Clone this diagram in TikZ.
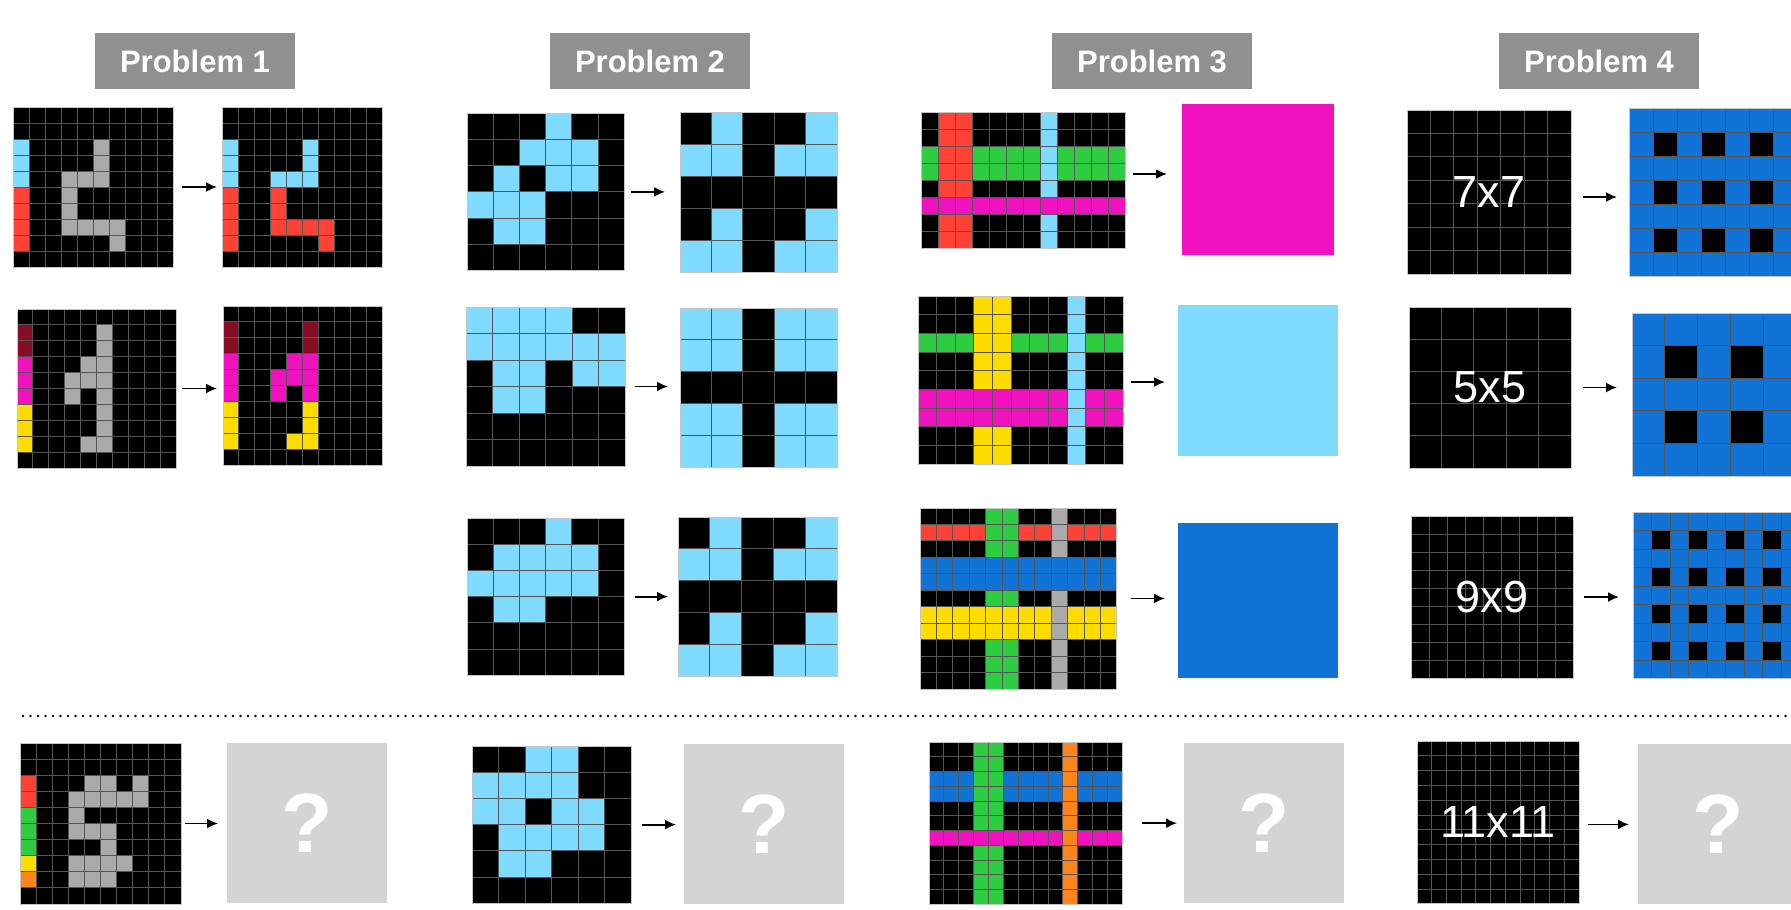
\documentclass[tikz,border=0pt]{standalone}
\usepackage{fontspec}
\setmainfont{Liberation Sans}
\usetikzlibrary{arrows.meta,calc}
\definecolor{arcblue}{HTML}{1173D6}
\definecolor{arcred}{HTML}{FF4136}
\definecolor{arcgreen}{HTML}{2ECC40}
\definecolor{arcyellow}{HTML}{FFDC00}
\definecolor{arcgray}{HTML}{AAAAAA}
\definecolor{arcmag}{HTML}{F012BE}
\definecolor{arcorange}{HTML}{FF851B}
\definecolor{arcsky}{HTML}{7FDBFF}
\definecolor{arcmaroon}{HTML}{870C25}
\definecolor{qgray}{HTML}{D4D4D4}
\definecolor{titlegray}{HTML}{909090}
\definecolor{glinec}{HTML}{555555}
\tikzset{
  gridbg/.style={fill=#1, draw=none, inner sep=0pt, outer sep=0pt, anchor=north west},
  gline/.style={draw=glinec, line width=0.45pt},
  gborder/.style={draw=gray!45, line width=0.45pt},
  arr/.style={-{Latex[length=5.5pt,width=5pt]}, line width=0.9pt, black},
  hdr/.style={fill=titlegray, text=white, font=\bfseries\fontsize{15.5}{18}\selectfont, minimum width=100pt, minimum height=28pt, inner sep=0pt},
  qbox/.style={fill=qgray, text=white, font=\bfseries\fontsize{42}{48}\selectfont, inner sep=0pt, anchor=north west, minimum width=80pt, minimum height=80pt},
  colbox/.style={draw=none, inner sep=0pt, anchor=north west},
  dimtext/.style={text=white, font=\fontsize{22.5}{26}\selectfont, inner sep=0pt},
  sepline/.style={line width=1.3pt, dash pattern=on 0pt off 3.75pt, line cap=round, black}
}
\newcommand\mkgrid[8][black]{%
  \node[gridbg=#1, minimum width={#5*#7*0.5pt}, minimum height={#6*#8*0.5pt}] (#2) at (#3,#4) {};%
  \def\gx{#3}\def\gy{#4}\def\gc{#5}\def\gr{#6}\def\gw{#7}\def\gh{#8}}
\newcommand\gb[5]{\fill[#1] ({\gx+#3*\gw},{\gy+#2*\gh}) rectangle ({\gx+(#5+1)*\gw},{\gy+(#4+1)*\gh});}
\newcommand\gcells[2]{\foreach \ri/\ci in {#2}{\gb{#1}{\ri}{\ci}{\ri}{\ci}}}
\newcommand\glines{%
  \pgfmathtruncatemacro\gcm{\gc-1}\pgfmathtruncatemacro\grm{\gr-1}%
  \foreach \ii in {1,...,\gcm}{\draw[gline] ({\gx+\ii*\gw},\gy) -- ({\gx+\ii*\gw},{\gy+\gr*\gh});}%
  \foreach \jj in {1,...,\grm}{\draw[gline] (\gx,{\gy+\jj*\gh}) -- ({\gx+\gc*\gw},{\gy+\jj*\gh});}%
  \draw[gborder] (\gx,\gy) rectangle ({\gx+\gc*\gw},{\gy+\gr*\gh});}
\begin{document}
\begin{tikzpicture}[x=0.5pt,y=-0.5pt]
\useasboundingbox (0,0) rectangle (1791,909);
\clip (0,0) rectangle (1791,909);
\fill[white] (0,0) rectangle (1791,909);
% titles
\node[hdr] (h1) at (195,61) {Problem 1};
\node[hdr] (h2) at (650,61) {Problem 2};
\node[hdr] (h3) at (1152,61) {Problem 3};
\node[hdr] (h4) at (1599,61) {Problem 4};
% ---------------- Problem 1
\mkgrid{p1a}{13}{107}{10}{10}{16}{16}
\gb{arcsky}{2}{0}{4}{0}\gb{arcred}{5}{0}{8}{0}
\gcells{arcgray}{2/5,3/5,4/3,4/4,4/5,5/3,6/3,7/3,7/4,7/5,7/6,8/6}
\glines
\mkgrid{p1b}{222}{107}{10}{10}{16}{16}
\gb{arcsky}{2}{0}{4}{0}\gb{arcred}{5}{0}{8}{0}
\gcells{arcsky}{2/5,3/5,4/3,4/4,4/5}
\gcells{arcred}{5/3,6/3,7/3,7/4,7/5,7/6,8/6}
\glines
\draw[arr, shorten <=4.5pt, shorten >=2.5pt] (p1a.east) -- (p1a.east -| p1b.west);
\mkgrid{p1c}{17}{309}{10}{10}{15.9}{15.9}
\gb{arcmaroon}{1}{0}{2}{0}\gb{arcmag}{3}{0}{5}{0}\gb{arcyellow}{6}{0}{8}{0}
\gcells{arcgray}{1/5,2/5,3/4,3/5,4/3,4/4,4/5,5/3,5/5,6/5,7/5,8/4,8/5}
\glines
\mkgrid{p1d}{223}{306}{10}{10}{15.9}{15.9}
\gb{arcmaroon}{1}{0}{2}{0}\gb{arcmag}{3}{0}{5}{0}\gb{arcyellow}{6}{0}{8}{0}
\gcells{arcmaroon}{1/5,2/5}
\gcells{arcmag}{3/4,3/5,4/3,4/4,4/5,5/3,5/5}
\gcells{arcyellow}{6/5,7/5,8/4,8/5}
\glines
\draw[arr, shorten <=3pt, shorten >=3pt] (p1c.east) -- (p1c.east -| p1d.west);
\mkgrid{p1e}{20}{743}{10}{10}{16.1}{16.1}
\gb{arcred}{2}{0}{3}{0}\gb{arcgreen}{4}{0}{6}{0}\gb{arcyellow}{7}{0}{7}{0}\gb{arcorange}{8}{0}{8}{0}
\gcells{arcgray}{2/4,2/5,2/7,3/3,3/4,3/5,3/6,3/7,4/3,5/3,5/4,5/5,6/5,7/3,7/4,7/5,7/6,8/3,8/4,8/5}
\glines
\node[qbox] (q1) at (227,743) {?};
\draw[arr, shorten <=2pt, shorten >=4.5pt] (p1e.east) -- (p1e.east -| q1.west);
% ---------------- Problem 2
\mkgrid{p2a}{467}{113}{6}{6}{26.2}{26.3}
\gcells{arcsky}{0/3,1/2,1/3,1/4,2/1,2/3,2/4,3/0,3/1,3/2,4/1,4/2}
\glines
\mkgrid{p2b}{680}{112}{5}{5}{31.4}{32}
\gcells{arcsky}{0/1,0/4,1/0,1/1,1/3,1/4,3/1,3/4,4/0,4/1,4/3,4/4}
\glines
\draw[arr, shorten <=3.5pt, shorten >=7.5pt] (p2a.east) -- (p2a.east -| p2b.west);
\mkgrid{p2c}{466}{307}{6}{6}{26.5}{26.5}
\gb{arcsky}{0}{0}{0}{3}\gb{arcsky}{1}{0}{1}{5}
\gcells{arcsky}{2/1,2/2,2/4,2/5,3/1,3/2}
\glines
\mkgrid{p2d}{680}{308}{5}{5}{31.4}{31.8}
\gcells{arcsky}{0/0,0/1,0/3,0/4,1/0,1/1,1/3,1/4,3/0,3/1,3/3,3/4,4/0,4/1,4/3,4/4}
\glines
\draw[arr, shorten <=5pt, shorten >=6pt] (p2c.east) -- (p2c.east -| p2d.west);
\mkgrid{p2e}{467}{518}{6}{6}{26.2}{26.2}
\gcells{arcsky}{0/3,1/1,1/2,1/3,1/4,2/0,2/1,2/2,2/3,2/4,3/1,3/2}
\glines
\mkgrid{p2f}{678}{517}{5}{5}{31.8}{31.8}
\gcells{arcsky}{0/1,0/4,1/0,1/1,1/3,1/4,3/1,3/4,4/0,4/1,4/3,4/4}
\glines
\draw[arr, shorten <=5.5pt, shorten >=5pt] (p2e.east) -- (p2e.east -| p2f.west);
\mkgrid{p2g}{472}{746}{6}{6}{26.5}{26.2}
\gcells{arcsky}{0/2,0/3,1/0,1/1,1/2,1/3,2/0,2/1,2/3,2/4,3/1,3/2,3/3,3/4,4/1,4/2}
\glines
\node[qbox] (q2) at (684,744) {?};
\draw[arr, shorten <=5.5pt, shorten >=4pt] (p2g.east) -- (p2g.east -| q2.west);
% ---------------- Problem 3
\mkgrid{p3a}{921}{112}{12}{8}{17}{17}
\gb{arcgreen}{2}{0}{3}{11}\gb{arcred}{0}{1}{7}{2}\gb{arcsky}{0}{7}{7}{7}\gb{arcmag}{5}{0}{5}{11}
\glines
\node[colbox, fill=arcmag, minimum width=76pt, minimum height=75.5pt] (p3b) at (1182,104) {};
\draw[arr, shorten <=4pt, shorten >=7.5pt] ([yshift=3pt]p3a.east) -- ([yshift=3pt]p3a.east -| p3b.west);
\mkgrid{p3c}{918}{296}{11}{9}{18.64}{18.67}
\gb{arcgreen}{2}{0}{2}{10}\gb{arcyellow}{0}{3}{8}{4}\gb{arcmag}{5}{0}{6}{10}\gb{arcsky}{0}{8}{8}{8}
\glines
\node[colbox, fill=arcsky, minimum width=80pt, minimum height=75.5pt] (p3d) at (1178,305) {};
\draw[arr, shorten <=4pt, shorten >=6.5pt] ([yshift=-1pt]p3c.east) -- ([yshift=-1pt]p3c.east -| p3d.west);
\mkgrid{p3e}{920}{508}{12}{11}{16.4}{16.45}
\gb{arcred}{1}{0}{1}{11}\gb{arcgreen}{0}{4}{10}{5}\gb{arcyellow}{6}{0}{7}{11}\gb{arcgray}{0}{8}{10}{8}\gb{arcblue}{3}{0}{4}{11}
\glines
\node[colbox, fill=arcblue, minimum width=80pt, minimum height=77.5pt] (p3f) at (1178,523) {};
\draw[arr, shorten <=7pt, shorten >=6.5pt] (p3e.east) -- (p3e.east -| p3f.west);
\mkgrid{p3g}{929}{742}{13}{11}{14.87}{14.76}
\gb{arcblue}{2}{0}{3}{12}\gb{arcgreen}{0}{3}{10}{4}\gb{arcmag}{6}{0}{6}{12}\gb{arcorange}{0}{9}{10}{9}
\glines
\node[qbox] (q3) at (1184,743) {?};
\draw[arr, shorten <=10pt, shorten >=3.5pt] (p3g.east) -- (p3g.east -| q3.west);
% ---------------- Problem 4
\mkgrid{p4a}{1407}{110}{7}{7}{23.43}{23.43}
\glines
\node[dimtext] (t1) at (p4a.center) {7x7};
\mkgrid[arcblue]{p4b}{1629}{108}{7}{7}{24}{24.1}
\gcells{black}{1/1,1/3,1/5,3/1,3/3,3/5,5/1,5/3,5/5}
\glines
\draw[arr, shorten <=6pt, shorten >=6pt] ([yshift=-2.5pt]p4a.east) -- ([yshift=-2.5pt]p4a.east -| p4b.west);
\mkgrid{p4c}{1409}{307}{5}{5}{32.4}{32.2}
\glines
\node[dimtext] (t2) at (p4c.center) {5x5};
\mkgrid[arcblue]{p4d}{1632}{313}{5}{5}{32.8}{32.6}
\gcells{black}{1/1,1/3,3/1,3/3}
\glines
\draw[arr, shorten <=6pt, shorten >=7.5pt] (p4c.east) -- (p4c.east -| p4d.west);
\mkgrid{p4e}{1411}{516}{9}{9}{18}{18}
\glines
\node[dimtext] (t3) at (p4e.center) {9x9};
\mkgrid[arcblue]{p4f}{1633}{512}{9}{9}{18.5}{18.5}
\gcells{black}{1/1,1/3,1/5,1/7,3/1,3/3,3/5,3/7,5/1,5/3,5/5,5/7,7/1,7/3,7/5,7/7}
\glines
\draw[arr, shorten <=5.5pt, shorten >=7pt] (p4e.east) -- (p4e.east -| p4f.west);
\mkgrid{p4g}{1417}{741}{11}{11}{14.73}{14.8}
\glines
\node[dimtext] (t4) at (p4g.center) {11x11};
\node[qbox] (q4) at (1638,744) {?};
\draw[arr, shorten <=4.5pt, shorten >=4.5pt] ([yshift=-1pt]p4g.east) -- ([yshift=-1pt]p4g.east -| q4.west);
% separator
\coordinate (s1) at (23,716);
\coordinate (s2) at (1791,716);
\draw[sepline] (s1) -- (s2);
\end{tikzpicture}
\end{document}
